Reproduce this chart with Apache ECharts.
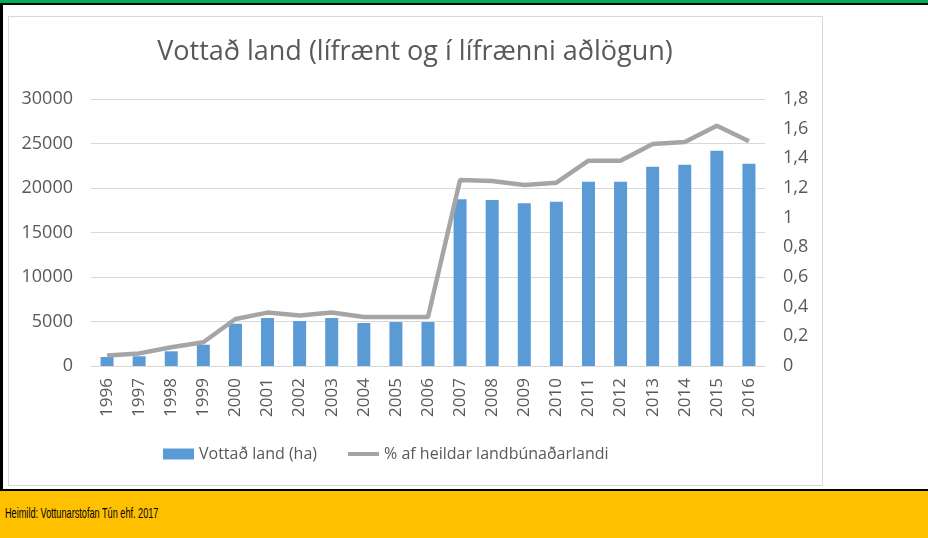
<!DOCTYPE html>
<html>
<head>
    <meta charset="utf-8">
    <title>Vottað land</title>
    <script src="https://cdn.jsdelivr.net/npm/echarts@6/dist/echarts.min.js"></script>
    <style>
        html, body {margin: 0; padding: 0; width: 928px; height: 538px; overflow: hidden; background: #fff;}
        #topbar {position: absolute; left: 0; top: 0; width: 928px; height: 3px; background: #00b050;}
        #topline {position: absolute; left: 0; top: 3px; width: 928px; height: 2px; background: #000;}
        #leftline {position: absolute; left: 0; top: 3px; width: 3px; height: 486px; background: #000;}
        #box {position: absolute; left: 8px; top: 16px; width: 813px; height: 468px; border: 1px solid #d9d9d9;}
        #footer {position: absolute; left: 0; top: 489px; width: 928px; height: 47px; border-top: 2px solid #000; background: #ffc000;}
        #footer span {position: absolute; left: 5px; top: 13px; white-space: nowrap;
            font-family: "Liberation Sans", sans-serif; font-size: 15px; color: #000;
            transform: scaleX(0.61); transform-origin: left center;}
        #main {position: absolute; left: 0; top: 0; width: 928px; height: 538px;}
    </style>
</head>
<body>
<div id="topbar"></div>
<div id="topline"></div>
<div id="leftline"></div>
<div id="box"></div>
<div id="footer"><span>Heimild: Vottunarstofan Tún ehf. 2017</span></div>
<div id="main"></div>
<script type="text/javascript">
    // gögn lesin af myndinni
    var years = ['1996', '1997', '1998', '1999', '2000', '2001', '2002', '2003', '2004', '2005', '2006',
        '2007', '2008', '2009', '2010', '2011', '2012', '2013', '2014', '2015', '2016'];
    var landHa = [1010, 1090, 1650, 2390, 4750, 5390, 5050, 5390, 4830, 4940, 4940,
        18730, 18650, 18280, 18460, 20700, 20700, 22400, 22620, 24190, 22730];
    var pctLand = [0.07, 0.085, 0.126, 0.16, 0.317, 0.36, 0.34, 0.36, 0.33, 0.33, 0.33,
        1.254, 1.247, 1.22, 1.236, 1.384, 1.384, 1.497, 1.51, 1.62, 1.515];

    var font = 'Open Sans';
    var txt = '#595959';

    var myChart = echarts.init(document.getElementById('main'), null, {renderer: 'canvas'});
    myChart.setOption({
        backgroundColor: 'transparent',
        animation: false,
        title: {
            text: 'Vottað land (lífrænt og í lífrænni aðlögun)',
            left: 410,
            textAlign: 'center',
            top: 34,
            textStyle: {fontFamily: font, fontSize: 27, fontWeight: 'normal', color: txt}
        },
        legend: {
            left: 158,
            top: 441,
            itemWidth: 31,
            itemHeight: 11,
            itemGap: 31,
            textStyle: {fontFamily: font, fontSize: 16, color: txt},
            data: [
                {name: 'Vottað land (ha)', icon: 'rect'},
                {name: '% af heildar landbúnaðarlandi', icon: 'path://M0,0 L31,0 L31,4 L0,4 Z'}
            ]
        },
        grid: {left: 91, right: 163, top: 99, bottom: 172},
        xAxis: {
            type: 'category',
            data: years,
            axisLine: {lineStyle: {color: '#d9d9d9', width: 1}},
            axisTick: {show: false},
            axisLabel: {rotate: 90, margin: 12, fontFamily: font, fontSize: 17, color: txt}
        },
        yAxis: [
            {
                type: 'value',
                min: 0, max: 30000, interval: 5000,
                axisLine: {show: false},
                axisTick: {show: false},
                splitLine: {lineStyle: {color: '#d9d9d9', width: 1}},
                axisLabel: {
                    margin: 18, fontFamily: font, fontSize: 18, color: txt,
                    formatter: function (v) { return String(v); }
                }
            },
            {
                type: 'value',
                min: 0, max: 1.8, interval: 0.2,
                axisLine: {show: false},
                axisTick: {show: false},
                splitLine: {show: false},
                axisLabel: {
                    margin: 18, fontFamily: font, fontSize: 18, color: txt,
                    formatter: function (v) {
                        return String(Math.round(v * 10) / 10).replace('.', ',');
                    }
                }
            }
        ],
        series: [
            {
                name: 'Vottað land (ha)',
                type: 'bar',
                barWidth: 13,
                itemStyle: {color: '#5b9bd5'},
                data: landHa
            },
            {
                name: '% af heildar landbúnaðarlandi',
                type: 'line',
                yAxisIndex: 1,
                symbol: 'none',
                lineStyle: {color: '#a5a5a5', width: 4.5},
                itemStyle: {color: '#a5a5a5'},
                data: pctLand
            }
        ]
    });
</script>
</body>
</html>
